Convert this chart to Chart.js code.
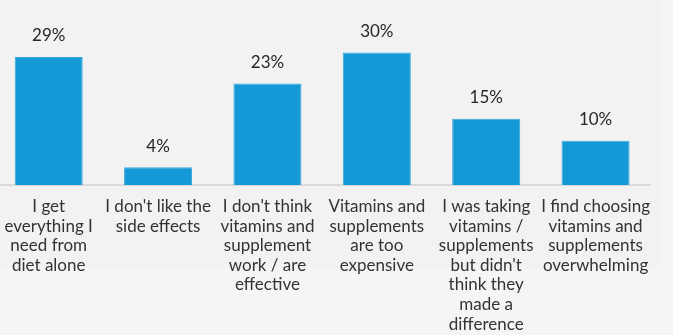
<!DOCTYPE html>
<html>
<head>
<meta charset="utf-8">
<script src="https://cdn.jsdelivr.net/npm/chart.js@4"></script>
<style>
  html, body { margin: 0; padding: 0; background: #f4f5f5; width: 673px; height: 335px; overflow: hidden; }
  #bg { position: absolute; left: 0; top: 0; width: 660px; height: 268px; background: #f2f2f2; }
  #wrap { position: absolute; left: -6px; top: 0; width: 660px; height: 335px; }
</style>
</head>
<body>
<div id="bg"></div>
<div id="wrap"><canvas id="c"></canvas></div>
<script>
const categories = [
  ["I get", "everything I", "need from", "diet alone"],
  ["I don't like the", "side effects"],
  ["I don't think", "vitamins and", "supplement", "work / are", "effective"],
  ["Vitamins and", "supplements", "are too", "expensive"],
  ["I was taking", "vitamins /", "supplements", "but didn't", "think they", "made a", "difference"],
  ["I find choosing", "vitamins and", "supplements", "overwhelming"]
];
const values = [29, 4, 23, 30, 15, 10];
const valueLabels = ["29%", "4%", "23%", "30%", "15%", "10%"];

const FONT = "Lato, 'Open Sans', sans-serif";

const labelPlugin = {
  id: 'valueLabels',
  afterDatasetsDraw(chart) {
    const ctx = chart.ctx;
    const meta = chart.getDatasetMeta(0);
    ctx.save();
    ctx.fillStyle = '#262626';
    ctx.font = "17px " + FONT;
    ctx.textAlign = 'center';
    ctx.textBaseline = 'middle';
    meta.data.forEach((bar, i) => {
      ctx.fillText(valueLabels[i], bar.x, bar.y - 21);
    });
    ctx.restore();
  }
};

new Chart(document.getElementById('c'), {
  type: 'bar',
  data: {
    labels: categories,
    datasets: [{
      data: values,
      backgroundColor: '#1599d6',
      borderColor: '#3aa9df',
      borderWidth: 1,
      categoryPercentage: 1,
      barPercentage: 0.622
    }]
  },
  options: {
    responsive: true,
    maintainAspectRatio: false,
    animation: false,
    layout: { padding: 0 },
    plugins: { legend: { display: false }, tooltip: { enabled: false } },
    scales: {
      x: {
        grid: { display: false },
        border: { display: true, color: '#d9d9d9', width: 2 },
        ticks: {
          color: '#333333',
          font: { family: FONT, size: 17, lineHeight: 1.15 },
          padding: 4,
          maxRotation: 0,
          autoSkip: false
        },
        afterFit(scale) { scale.height = 150; }
      },
      y: {
        display: false,
        min: 0,
        max: 41.9
      }
    }
  },
  plugins: [labelPlugin]
});
</script>
</body>
</html>
